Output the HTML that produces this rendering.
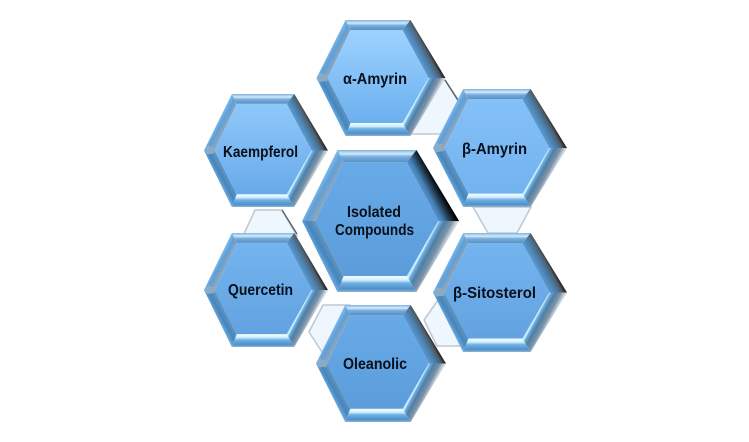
<!DOCTYPE html>
<html><head><meta charset="utf-8">
<style>
html,body{margin:0;padding:0;background:#fff;width:749px;height:442px;overflow:hidden}
svg{display:block}
text{font-family:"Liberation Sans","DejaVu Sans",sans-serif;font-weight:bold;font-size:16px;fill:#08101c}
</style></head>
<body>
<svg width="749" height="442" viewBox="0 0 749 442" xmlns="http://www.w3.org/2000/svg">
<defs>
<linearGradient id="ft" gradientUnits="userSpaceOnUse" x1="0" y1="-58" x2="0" y2="-47">
<stop offset="0" stop-color="#7fb2dc"/><stop offset=".28" stop-color="#d4eafa"/><stop offset=".5" stop-color="#79aedd"/><stop offset="1" stop-color="#4d88bd"/></linearGradient>
<linearGradient id="ftl" gradientUnits="userSpaceOnUse" x1="-53" y1="-29" x2="-42" y2="-23">
<stop offset="0" stop-color="#8cc6f4"/><stop offset=".55" stop-color="#5f9fd6"/><stop offset="1" stop-color="#8ba6be"/></linearGradient>
<linearGradient id="ftr" gradientUnits="userSpaceOnUse" x1="48" y1="-29" x2="35" y2="-22">
<stop offset="0" stop-color="#2a2a2a"/><stop offset=".18" stop-color="#4f5c68"/><stop offset=".5" stop-color="#4a7da9"/><stop offset="1" stop-color="#5f9fd8"/></linearGradient>
<linearGradient id="fbr" gradientUnits="userSpaceOnUse" x1="48" y1="29" x2="35" y2="22">
<stop offset="0" stop-color="#cdd7e0"/><stop offset=".25" stop-color="#7d93a8"/><stop offset=".6" stop-color="#4f7ea6"/><stop offset=".84" stop-color="#6fb0e0"/><stop offset=".94" stop-color="#d8f6ff"/><stop offset="1" stop-color="#a8e4ff"/></linearGradient>
<linearGradient id="fb" gradientUnits="userSpaceOnUse" x1="0" y1="45" x2="0" y2="58">
<stop offset="0" stop-color="#f4fcff"/><stop offset=".25" stop-color="#d2effd"/><stop offset=".45" stop-color="#6fb0e4"/><stop offset=".8" stop-color="#4f90c8"/><stop offset="1" stop-color="#8ab4d8"/></linearGradient>
<linearGradient id="fbl" gradientUnits="userSpaceOnUse" x1="-53" y1="28" x2="-42" y2="22">
<stop offset="0" stop-color="#7ab8ec"/><stop offset=".55" stop-color="#4585bb"/><stop offset="1" stop-color="#5f94c2"/></linearGradient>
<linearGradient id="fl" gradientUnits="userSpaceOnUse" x1="-64" y1="0" x2="-52" y2="0">
<stop offset="0" stop-color="#7fb0d8"/><stop offset="1" stop-color="#95a6b6"/></linearGradient>
<linearGradient id="g1" x1="0" y1="0" x2="0" y2="1"><stop offset="0" stop-color="#9dd2ff"/><stop offset="1" stop-color="#6cb0ee"/></linearGradient>
<linearGradient id="g2" x1="0" y1="0" x2="0" y2="1"><stop offset="0" stop-color="#85c1f8"/><stop offset="1" stop-color="#72b2f0"/></linearGradient>
<linearGradient id="g3" x1="0" y1="0" x2="0" y2="1"><stop offset="0" stop-color="#8fc8fa"/><stop offset="1" stop-color="#68aaea"/></linearGradient>
<linearGradient id="g4" x1="0" y1="0" x2="0" y2="1"><stop offset="0" stop-color="#74b4ef"/><stop offset="1" stop-color="#62a2e0"/></linearGradient>
<linearGradient id="g5" x1="0" y1="0" x2="0" y2="1"><stop offset="0" stop-color="#68aae8"/><stop offset="1" stop-color="#5c9cda"/></linearGradient>
<linearGradient id="gc" gradientUnits="userSpaceOnUse" x1="48" y1="-29" x2="35" y2="-22">
<stop offset="0" stop-color="#000"/><stop offset=".3" stop-color="#1d3245"/><stop offset=".7" stop-color="#457fb4"/><stop offset="1" stop-color="#5a98d2"/></linearGradient>
<g id="bevel">
<polygon points="-35,-58 30,-58 22,-48 -30,-48" fill="url(#ft)"/>
<polygon points="-64,0 -35,-58 -30,-48 -53,0" fill="url(#ftl)"/>
<polygon points="30,-58 65,0 48,0 22,-48" fill="url(#ftr)"/>
<polygon points="65,0 30,58 22,45 48,0" fill="url(#fbr)"/>
<polygon points="30,58 -35,58 -30,45 22,45" fill="url(#fb)"/>
<polygon points="-35,58 -64,0 -53,0 -30,45" fill="url(#fbl)"/>
<polygon points="-64,0 -61,-5 -53,-3 -53,3 -61,4" fill="url(#fl)"/>
</g>
<g id="bevelc">
<polygon points="-35,-58 30,-58 22,-48 -30,-48" fill="url(#ft)"/>
<polygon points="-64,0 -35,-58 -30,-48 -53,0" fill="url(#ftl)"/>
<polygon points="30,-58 65,0 48,0 22,-48" fill="url(#gc)"/>
<polygon points="65,0 30,58 22,45 48,0" fill="url(#fbr)"/>
<polygon points="30,58 -35,58 -30,45 22,45" fill="url(#fb)"/>
<polygon points="-35,58 -64,0 -53,0 -30,45" fill="url(#fbl)"/>
</g>
</defs>

<!-- pale connectors -->
<g fill="#eef6fe" stroke="#c2c9d4" stroke-width="1.6" stroke-linejoin="round">
<polygon points="420,80 445,80 461,104 445,134 405,134"/>
<polygon points="473,207 531,207 517,233 488,233"/>
<polygon points="438,300 424,320 437,346 470,346 470,300"/>
<polygon points="323,305 350,305 350,352 322,352 309,332"/>
<polygon points="255,210 282,210 297,236 243,236"/>
</g>
<g fill="none" stroke="#5a5f68" stroke-width="1.4">
<polyline points="445,80 459,102"/>
<polyline points="282,210 297,234"/>
</g>

<!-- hexagons -->
<g transform="translate(380.5,78) scale(1,1)">
<polygon points="-53,0 -30,-48 22,-48 48,0 22,45 -30,45" fill="url(#g1)"/><use href="#bevel"/></g>
<g transform="translate(499.5,148) scale(1.039,1.017)">
<polygon points="-53,0 -30,-48 22,-48 48,0 22,45 -30,45" fill="url(#g2)"/><use href="#bevel"/></g>
<g transform="translate(265.5,150.5) scale(.961,.974)">
<polygon points="-53,0 -30,-48 22,-48 48,0 22,45 -30,45" fill="url(#g3)"/><use href="#bevel"/></g>
<g transform="translate(265.5,290) scale(.961,.983)">
<polygon points="-53,0 -30,-48 22,-48 48,0 22,45 -30,45" fill="url(#g4)"/><use href="#bevel"/></g>
<g transform="translate(499.5,292.5) scale(1.039,1.026)">
<polygon points="-53,0 -30,-48 22,-48 48,0 22,45 -30,45" fill="url(#g4)"/><use href="#bevel"/></g>
<g transform="translate(380.5,363.5) scale(1.008,1.009)">
<polygon points="-53,0 -30,-48 22,-48 48,0 22,45 -30,45" fill="url(#g5)"/><use href="#bevel"/></g>
<g transform="translate(380,221) scale(1.217,1.224)">
<polygon points="-53,0 -30,-48 22,-48 48,0 22,45 -30,45" fill="url(#g5)"/><use href="#bevelc"/></g>

<!-- labels -->
<text x="343" y="84" textLength="64" lengthAdjust="spacingAndGlyphs">α-Amyrin</text>
<text x="462" y="154" textLength="65" lengthAdjust="spacingAndGlyphs">β-Amyrin</text>
<text x="223" y="157" textLength="75" lengthAdjust="spacingAndGlyphs">Kaempferol</text>
<text x="347" y="217" textLength="54" lengthAdjust="spacingAndGlyphs">Isolated</text>
<text x="335" y="235" textLength="79" lengthAdjust="spacingAndGlyphs">Compounds</text>
<text x="228" y="295" textLength="65" lengthAdjust="spacingAndGlyphs">Quercetin</text>
<text x="453" y="298" textLength="83" lengthAdjust="spacingAndGlyphs">β-Sitosterol</text>
<text x="343" y="369" textLength="64" lengthAdjust="spacingAndGlyphs">Oleanolic</text>
</svg>
</body></html>
